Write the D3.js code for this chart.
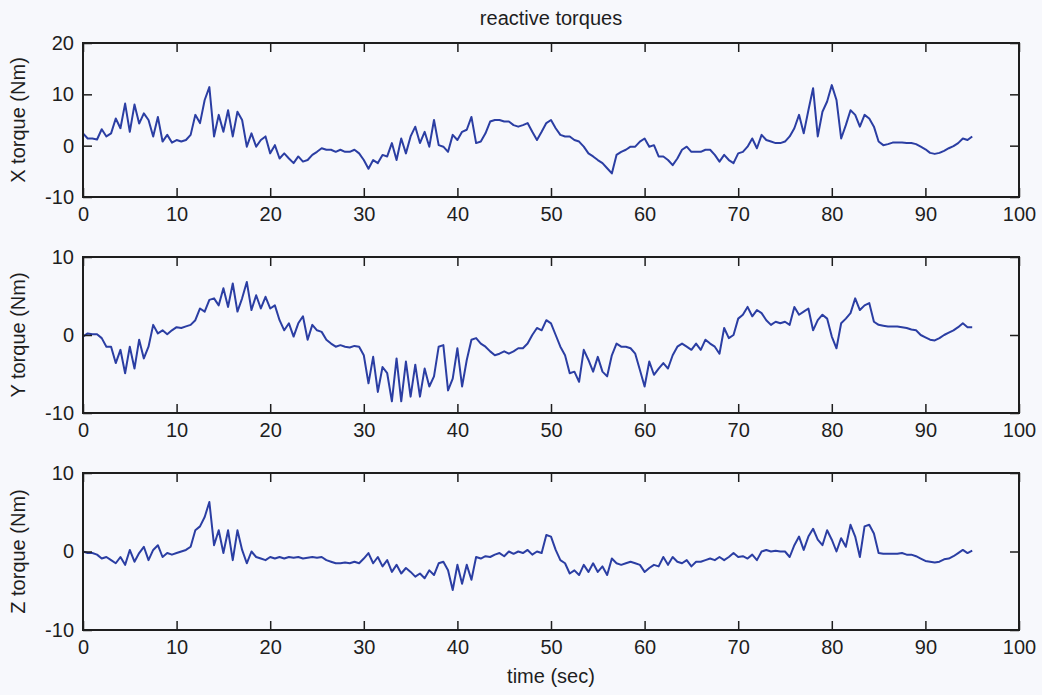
<!DOCTYPE html>
<html>
<head>
<meta charset="utf-8">
<script src="https://cdn.jsdelivr.net/npm/d3@7"></script>
<style>
    body { margin: 0; background: #f7f8fc; }
    #chart { width: 1042px; height: 695px; }
    text { font-family: "Liberation Sans", Arial, sans-serif; fill: #1e1e1e; }
</style>
</head>
<body>
<div id="chart"></div>
<script>
// sample step of the torque traces (seconds)
const dt = 0.5;

// X torque (Nm), one value every 0.5 s from 0 to 95 s
const xTorque = [
    2.4, 1.4, 1.4, 1.2, 3.2, 1.8, 2.4, 5.3, 3.4, 8.2, 2.7, 8.0, 4.3, 6.3, 5.0, 1.8, 5.6, 0.8, 2.1, 0.6,
    1.1, 0.8, 1.1, 2.1, 6.0, 4.4, 8.9, 11.4, 1.8, 6.0, 2.7, 6.9, 1.8, 6.6, 5.0, -0.2, 2.4, -0.2, 1.1, 1.8,
    -1.5, 0.1, -2.5, -1.5, -2.5, -3.4, -2.1, -3.1, -2.8, -1.8, -1.2, -0.5, -0.8, -0.8, -1.2, -0.8, -1.2, -1.2, -0.8, -1.5,
    -2.8, -4.5, -2.8, -3.4, -1.8, -2.1, 0.5, -2.8, 1.4, -1.5, 1.8, 3.7, 0.5, 2.7, -0.2, 5.0, 0.1, -0.2, -1.2, 2.1,
    1.1, 2.7, 3.1, 5.6, 0.5, 0.8, 2.4, 4.7, 5.0, 5.0, 4.7, 4.7, 4.0, 3.7, 4.0, 4.4, 2.7, 1.1, 2.7, 4.4,
    5.0, 3.4, 2.1, 1.8, 1.8, 1.1, 0.8, -0.2, -1.5, -2.1, -2.8, -3.4, -4.4, -5.4, -1.8, -1.2, -0.8, -0.2, -0.2, 0.8,
    1.4, -0.2, 0.1, -2.1, -2.1, -2.8, -3.8, -2.5, -0.8, -0.2, -1.2, -1.2, -1.2, -0.8, -0.8, -1.8, -3.1, -1.8, -2.8, -3.4,
    -1.5, -1.2, -0.2, 1.4, -0.5, 2.1, 1.1, 0.8, 0.5, 0.5, 0.8, 1.8, 3.4, 6.0, 2.4, 6.9, 11.2, 1.8, 6.6, 8.6,
    11.8, 8.9, 1.4, 4.0, 6.9, 6.0, 3.7, 6.0, 5.3, 3.7, 0.8, 0.1, 0.3, 0.6, 0.6, 0.6, 0.5, 0.5, 0.3, -0.2,
    -0.7, -1.4, -1.6, -1.4, -1.0, -0.5, -0.1, 0.5, 1.4, 1.1, 1.8
];

// Y torque (Nm)
const yTorque = [
    -0.2, 0.2, 0.1, 0.1, -0.4, -1.5, -1.5, -3.6, -1.9, -4.9, -1.5, -4.3, -0.6, -3.0, -1.5, 1.3, 0.2, 0.6, 0.1, 0.6,
    1.0, 0.9, 1.1, 1.3, 1.9, 3.4, 3.0, 4.5, 4.7, 3.8, 6.0, 3.6, 6.6, 3.0, 4.7, 6.8, 3.2, 5.1, 3.4, 4.9,
    3.4, 3.8, 1.9, 0.6, 1.5, -0.2, 1.5, 2.4, -0.6, 1.3, 0.6, 0.4, -0.6, -1.1, -1.5, -1.3, -1.5, -1.6, -1.4, -1.5,
    -2.6, -6.2, -2.8, -7.3, -4.1, -4.9, -8.5, -3.0, -8.5, -3.4, -7.9, -3.8, -7.9, -4.3, -6.6, -5.3, -1.5, -1.3, -7.1, -5.6,
    -1.7, -6.6, -3.2, -0.6, -0.4, -1.1, -1.5, -2.1, -2.6, -2.4, -2.1, -2.4, -2.1, -1.7, -1.7, -1.1, 0.0, 0.9, 0.6, 1.9,
    1.5, 0.0, -1.5, -2.6, -4.9, -4.7, -6.0, -1.9, -3.2, -4.7, -2.8, -4.7, -5.3, -2.6, -1.1, -1.5, -1.5, -1.7, -2.4, -4.5,
    -6.6, -3.4, -5.1, -4.3, -3.6, -4.3, -2.6, -1.5, -1.1, -1.5, -1.9, -1.1, -1.9, -0.6, -1.1, -1.5, -2.4, 0.9, -0.4, 0.0,
    2.1, 2.6, 3.6, 2.4, 3.2, 2.8, 1.9, 1.3, 1.7, 1.5, 1.7, 1.3, 3.6, 2.6, 3.0, 3.4, 0.6, 1.9, 2.6, 2.1,
    -0.2, -1.7, 1.5, 2.1, 2.8, 4.7, 3.2, 3.8, 4.1, 1.7, 1.3, 1.2, 1.1, 1.1, 1.1, 1.0, 0.9, 0.7, 0.6, 0.0,
    -0.3, -0.6, -0.7, -0.4, 0.0, 0.3, 0.6, 1.0, 1.5, 1.0, 1.0
];

// Z torque (Nm)
const zTorque = [
    0.0, -0.2, -0.2, -0.4, -0.9, -0.7, -1.1, -1.5, -0.7, -1.7, 0.2, -1.3, -0.2, 0.6, -1.1, 0.2, 0.8, -0.7, -0.2, -0.4,
    -0.2, 0.0, 0.2, 0.6, 2.7, 3.2, 4.4, 6.3, 0.8, 2.7, -0.2, 2.7, -1.1, 2.7, 0.2, -1.5, 0.0, -0.7, -0.9, -1.1,
    -0.7, -0.9, -0.7, -0.9, -0.7, -0.8, -0.7, -0.9, -0.8, -0.7, -0.8, -0.7, -1.1, -1.3, -1.5, -1.5, -1.4, -1.5, -1.3, -1.5,
    -0.9, -0.2, -1.5, -0.7, -1.9, -1.1, -2.6, -1.7, -2.8, -2.1, -2.6, -3.2, -2.8, -3.4, -2.4, -3.0, -1.5, -1.3, -2.4, -4.9,
    -1.7, -4.1, -1.7, -3.6, -0.7, -0.9, -0.6, -0.7, -0.4, -0.2, -0.6, 0.0, -0.3, 0.0, -0.2, 0.2, -0.4, 0.0, -0.2, 2.1,
    1.9, 0.2, -1.1, -1.5, -2.8, -2.4, -3.0, -1.7, -2.6, -1.5, -2.6, -1.9, -3.0, -0.9, -1.5, -1.7, -1.5, -1.3, -1.5, -1.7,
    -2.6, -2.1, -1.7, -1.9, -0.7, -1.7, -0.7, -1.3, -1.5, -1.1, -1.9, -1.3, -1.3, -1.1, -0.9, -1.1, -0.7, -1.1, -0.7, -0.2,
    -0.7, -0.6, -0.9, -0.4, -1.1, 0.0, 0.2, 0.0, 0.1, 0.0, 0.0, -0.7, 0.8, 1.9, 0.2, 1.9, 2.9, 1.5, 0.8, 2.7,
    1.5, 0.0, 1.7, 0.6, 3.4, 1.9, -0.7, 3.2, 3.4, 2.3, -0.2, -0.3, -0.3, -0.3, -0.3, -0.2, -0.4, -0.4, -0.6, -0.9,
    -1.2, -1.3, -1.4, -1.3, -1.0, -0.9, -0.6, -0.2, 0.2, -0.2, 0.1
];

const xTicks = [0, 10, 20, 30, 40, 50, 60, 70, 80, 90, 100];
const panelNames = ["X torque (Nm)", "Y torque (Nm)", "Z torque (Nm)"];
const panelDomains = [[-10, 20], [-10, 10], [-10, 10]];
const panelTicks = [[-10, 0, 10, 20], [-10, 0, 10], [-10, 0, 10]];
const panelSeries = [xTorque, yTorque, zTorque];

/*
SVG CANVAS
*/
const width = 1042;
const height = 695;
const margin = { left: 83, right: 23 };
const panelBoxes = [
    { top: 43, bottom: 197 },
    { top: 257, bottom: 413 },
    { top: 473, bottom: 630 }
];

const svg = d3.select("#chart")
    .append("svg")
    .attr("width", width)
    .attr("height", height);

svg.append("rect")
    .attr("width", width)
    .attr("height", height)
    .attr("fill", "#f7f8fc");

const xScale = d3.scaleLinear()
    .domain([0, 100])
    .range([margin.left, width - margin.right]);

const lineColor = "#2b3ea3";
const tickLen = 9;
// plain hyphen for negatives, like the original figure
const plainFormat = function (d) { return String(d); };

panelSeries.forEach(function (series, i) {
    const box = panelBoxes[i];
    const yScale = d3.scaleLinear()
        .domain(panelDomains[i])
        .range([box.bottom, box.top]);

    const line = d3.line()
        .x(function (d, j) { return xScale(j * dt); })
        .y(function (d) { return yScale(d); })
        .curve(d3.curveLinear);

    // trace
    svg.append("path")
        .datum(series)
        .attr("d", line)
        .attr("fill", "none")
        .attr("stroke", lineColor)
        .attr("stroke-width", 2)
        .attr("stroke-linejoin", "round");

    // axes with inward ticks on all four sides
    svg.append("g")
        .attr("class", "axis")
        .attr("transform", `translate(0,${box.bottom})`)
        .call(d3.axisBottom(xScale).tickValues(xTicks).tickFormat(plainFormat)
            .tickSize(-tickLen).tickSizeOuter(0).tickPadding(10));

    svg.append("g")
        .attr("transform", `translate(0,${box.top})`)
        .call(d3.axisTop(xScale).tickValues(xTicks).tickSize(-tickLen).tickSizeOuter(0).tickFormat(""));

    svg.append("g")
        .attr("class", "axis")
        .attr("transform", `translate(${margin.left},0)`)
        .call(d3.axisLeft(yScale).tickValues(panelTicks[i]).tickFormat(plainFormat)
            .tickSize(-tickLen).tickSizeOuter(0).tickPadding(9));

    svg.append("g")
        .attr("transform", `translate(${width - margin.right},0)`)
        .call(d3.axisRight(yScale).tickValues(panelTicks[i]).tickSize(-tickLen).tickSizeOuter(0).tickFormat(""));

    svg.selectAll(".domain").remove();
    svg.selectAll(".tick line").attr("stroke", "#1e1e1e").attr("stroke-width", 1.5);
    svg.selectAll(".tick text")
        .style("font-size", "20px")
        .attr("fill", "#1e1e1e");

    // box frame
    svg.append("rect")
        .attr("x", margin.left)
        .attr("y", box.top)
        .attr("width", width - margin.right - margin.left)
        .attr("height", box.bottom - box.top)
        .attr("fill", "none")
        .attr("stroke", "#1e1e1e")
        .attr("stroke-width", 2);

    // y label
    svg.append("text")
        .attr("transform", `translate(25,${(box.top + box.bottom) / 2}) rotate(-90)`)
        .attr("text-anchor", "middle")
        .style("font-size", "20px")
        .text(panelNames[i]);
});

/*
TITLE AND X LABEL
*/
svg.append("text")
    .attr("x", (margin.left + width - margin.right) / 2)
    .attr("y", 25)
    .attr("text-anchor", "middle")
    .style("font-size", "20px")
    .text("reactive torques");

svg.append("text")
    .attr("x", (margin.left + width - margin.right) / 2)
    .attr("y", 683)
    .attr("text-anchor", "middle")
    .style("font-size", "20px")
    .text("time (sec)");
</script>
</body>
</html>
